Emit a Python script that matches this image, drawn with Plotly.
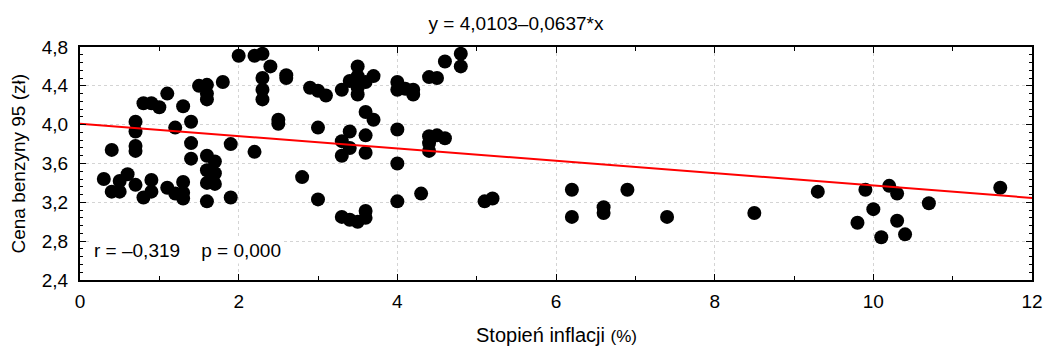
import plotly.graph_objects as go
import numpy as np

inflation = [0.3, 0.4, 0.4, 0.5, 0.5, 0.6, 0.7, 0.7, 0.7, 0.7, 0.7, 0.8, 0.8, 0.9, 0.9, 0.9,
             1.0, 1.1, 1.1, 1.2, 1.2, 1.3, 1.3, 1.3, 1.3, 1.4, 1.4, 1.4, 1.5, 1.6, 1.6, 1.6,
             1.6, 1.6, 1.6, 1.6, 1.7, 1.7, 1.7, 1.8, 1.9, 1.9, 2.0, 2.2, 2.3, 2.2, 2.3, 2.3,
             2.3, 2.4, 2.5, 2.5, 2.6, 2.6, 2.8, 2.9, 3.0, 3.1, 3.0, 3.0, 3.3, 3.4, 3.5, 3.5,
             3.5, 3.5, 3.6, 3.7, 3.6, 3.7, 3.4, 3.6, 3.3, 3.4, 3.3, 3.6, 3.3, 3.4, 3.5, 3.6,
             3.6, 4.0, 4.0, 4.1, 4.2, 4.2, 4.0, 4.0, 4.0, 4.3, 4.4, 4.5, 4.6, 4.8, 4.8, 4.4,
             4.5, 4.4, 4.6, 4.4, 5.1, 5.2, 6.2, 6.2, 6.6, 6.6, 6.9, 7.4, 8.5, 9.3, 9.9, 9.8,
             10.0, 10.2, 10.3, 10.1, 10.3, 10.4, 10.7, 11.6]
price = [3.44, 3.74, 3.31, 3.31, 3.42, 3.49, 3.38, 4.03, 3.93, 3.78, 3.73, 4.22, 3.25, 4.22, 3.43, 3.31,
         4.18, 4.32, 3.35, 3.97, 3.29, 4.19, 3.41, 3.30, 3.24, 4.03, 3.81, 3.65, 4.40, 4.41, 4.32, 4.26,
         3.68, 3.53, 3.40, 3.21, 3.62, 3.50, 3.39, 4.44, 3.80, 3.25, 4.71, 4.71, 4.73, 3.72, 4.48, 4.36,
         4.26, 4.60, 4.05, 4.01, 4.51, 4.48, 3.46, 4.38, 4.35, 4.30, 3.97, 3.23, 4.36, 4.45, 4.60, 4.50,
         4.38, 4.31, 4.44, 4.50, 4.13, 4.05, 3.93, 3.89, 3.83, 3.76, 3.68, 3.71, 3.05, 3.02, 3.00, 3.11,
         3.04, 4.44, 4.36, 4.37, 4.36, 4.31, 3.95, 3.60, 3.21, 3.29, 4.49, 4.48, 4.65, 4.73, 4.60, 3.88,
         3.89, 3.81, 3.86, 3.73, 3.21, 3.24, 3.33, 3.05, 3.15, 3.09, 3.33, 3.05, 3.09, 3.31, 3.33, 2.99,
         3.13, 3.37, 3.29, 2.84, 3.01, 2.87, 3.19, 3.35]

intercept = 4.0103
slope = -0.0637
x_range = [0, 12]

x_ticks = [0, 2, 4, 6, 8, 10, 12]
y_ticks = [2.4, 2.8, 3.2, 3.6, 4.0, 4.4, 4.8]
y_ticklabels = ["2,4", "2,8", "3,2", "3,6", "4,0", "4,4", "4,8"]

FONT = "Liberation Sans, Arial, sans-serif"
L, R, T, B = 80, 12, 47, 74
PW = 1044 - L - R
PH = 354 - T - B

fig = go.Figure()
fig.add_trace(go.Scatter(
    x=inflation, y=price, mode="markers",
    marker=dict(size=14, color="black", line=dict(width=0)),
    showlegend=False, hoverinfo="x+y"))

line_x = np.array(x_range, dtype=float)
fig.add_trace(go.Scatter(
    x=line_x, y=intercept + slope * line_x, mode="lines",
    line=dict(color="#ff0000", width=2), showlegend=False))

fig.update_layout(
    width=1044, height=354,
    paper_bgcolor="white", plot_bgcolor="white",
    margin=dict(l=L, r=R, t=T, b=B),
    font=dict(family=FONT, size=19, color="black"),
    title=dict(text="y = 4,0103–0,0637*x", x=516 / 1044, xanchor="center",
               y=1 - 23 / 354, yanchor="middle", font=dict(size=19, family=FONT)),
    separators=",.",
)

fig.update_xaxes(
    range=x_range, tickvals=x_ticks, ticktext=[str(v) for v in x_ticks],
    showline=True, linecolor="black", linewidth=2, mirror="allticks",
    ticks="inside", ticklen=6, tickcolor="black", tickwidth=1,
    minor=dict(dtick=1, ticks="inside", ticklen=4, tickcolor="black", showgrid=False),
    showgrid=True, gridcolor="#d4d4d4", griddash="dot", gridwidth=1,
    zeroline=False, tickfont=dict(size=19), automargin=False, ticklabelstandoff=3,
)
fig.update_yaxes(
    range=[2.4, 4.8], tickvals=y_ticks, ticktext=y_ticklabels,
    showline=True, linecolor="black", linewidth=2, mirror="allticks",
    ticks="inside", ticklen=6, tickcolor="black", tickwidth=1,
    minor=dict(dtick=0.08, tick0=2.4, ticks="inside", ticklen=3, tickcolor="black", showgrid=False),
    showgrid=True, gridcolor="#d4d4d4", griddash="dot", gridwidth=1,
    zeroline=False, tickfont=dict(size=19), automargin=False, ticklabelstandoff=6,
)

fig.add_annotation(
    text="Stopień inflacji <span style='font-size:17px'>(%)</span>",
    xref="paper", yref="paper", x=(556 - L) / PW, y=-(335 - (354 - B)) / PH,
    xanchor="center", yanchor="middle", showarrow=False,
    font=dict(size=20, family=FONT))
fig.add_annotation(
    text="Cena benzyny 95 (zł)", textangle=-90,
    xref="paper", yref="paper", x=-(L - 18) / PW, y=0.5,
    xanchor="center", yanchor="middle", showarrow=False,
    font=dict(size=19, family=FONT))

fig.add_annotation(
    text="r = –0,319\u00a0\u00a0\u00a0\u00a0p = 0,000", xref="paper", yref="paper",
    x=(91 - L) / PW, y=((354 - B) - 250) / PH, xanchor="left", yanchor="middle",
    showarrow=False, font=dict(size=19, family=FONT), bgcolor="white", borderpad=2)

fig.write_html("out.html", config={"displayModeBar": False},
               post_script="document.body.style.margin='0';")
